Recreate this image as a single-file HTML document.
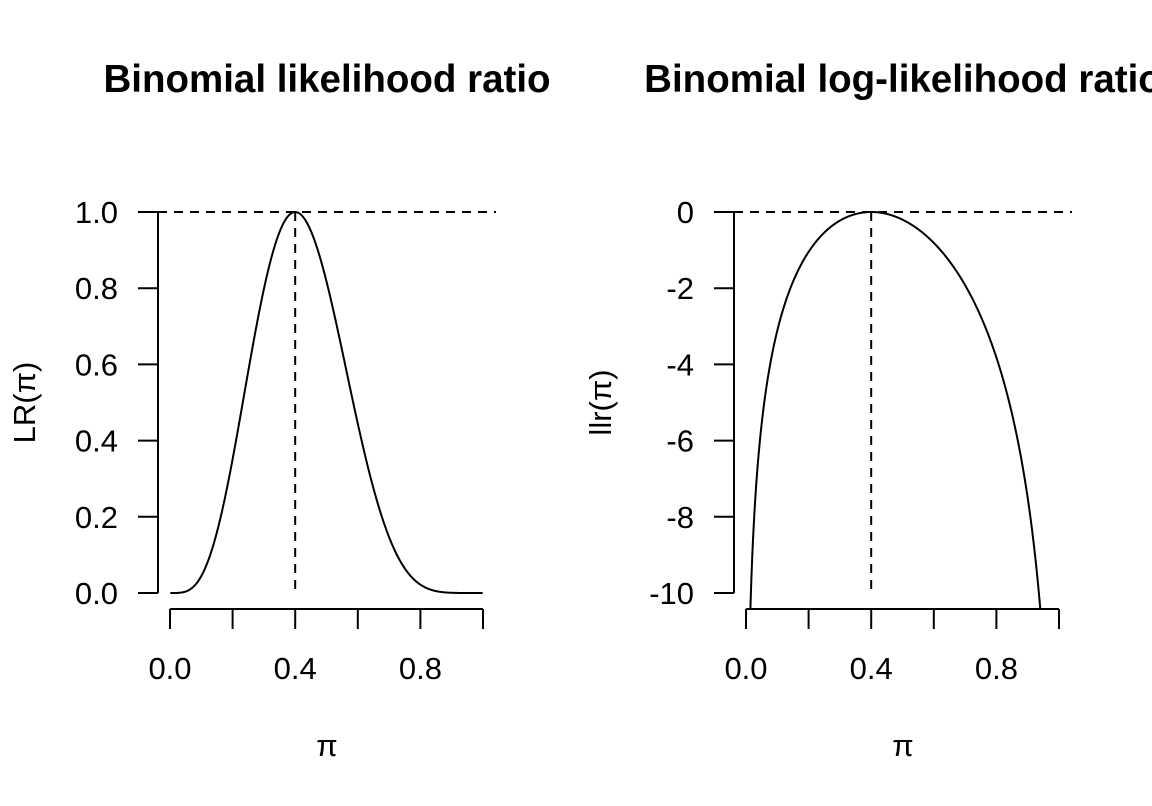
<!DOCTYPE html>
<html><head><meta charset="utf-8"><style>
html,body{margin:0;padding:0;background:#fff;}
svg{display:block;font-family:"Liberation Sans",Arial,sans-serif;}
</style></head><body>
<svg id="chart" width="1152" height="806" viewBox="0 0 1152 806" xmlns="http://www.w3.org/2000/svg">
<defs>
<clipPath id="clipL"><rect x="157" y="197" width="340" height="412"/></clipPath>
<clipPath id="clipR"><rect x="733" y="197" width="340" height="411"/></clipPath>
</defs>
<g id="left"></g>
<g id="right"></g>
</svg>
<script>
// data
const trials = [10];
const successes = [4];
const xTicks = [0, 0.2, 0.4, 0.6, 0.8, 1.0];
const xTickLabels = ["0.0", "", "0.4", "", "0.8", ""];
const lrTicks = [0, 0.2, 0.4, 0.6, 0.8, 1.0];
const lrTickLabels = ["0.0", "0.2", "0.4", "0.6", "0.8", "1.0"];
const llrTicks = [-10, -8, -6, -4, -2, 0];
const llrTickLabels = ["-10", "-8", "-6", "-4", "-2", "0"];

const NS = "http://www.w3.org/2000/svg";
function mk(parent, tag, attrs, text) {
  const e = document.createElementNS(NS, tag);
  for (const k in attrs) e.setAttribute(k, attrs[k]);
  if (text !== undefined) e.textContent = text;
  parent.appendChild(e);
  return e;
}
const n = trials[0], k = successes[0], mle = k / n;
function llr(p) { return k * Math.log(p / mle) + (n - k) * Math.log((1 - p) / (1 - mle)); }

function panel(g, x0, title, ylab, yTicks, yLabels, ymin, ymax, f, clip) {
  const sx = v => x0 + v * 313;
  const sy = v => 593 - (v - ymin) / (ymax - ymin) * 381;
  const t = mk(g, "text", {x: x0 + 157, y: 92, "text-anchor": "middle", "font-size": "38.5", "font-weight": "bold"}, title);
  
  
  const ya = mk(g, "g", {});
  
  
  mk(ya, "line", {x1: x0 - 12, x2: x0 - 12, y1: sy(yTicks[0]), y2: sy(yTicks[yTicks.length - 1]), stroke: "#000", "stroke-width": 2});
  yTicks.forEach((v, i) => {
    mk(ya, "line", {x1: x0 - 32, x2: x0 - 12, y1: sy(v), y2: sy(v), stroke: "#000", "stroke-width": 2});
    const lb = mk(ya, "text", {x: x0 - 52, y: sy(v) + 11, "text-anchor": "end", "font-size": "31"}, yLabels[i]);
    
    
  });
  const xa = mk(g, "g", {});
  
  
  mk(xa, "line", {x1: sx(0), x2: sx(1), y1: 609, y2: 609, stroke: "#000", "stroke-width": 2});
  xTicks.forEach((v, i) => {
    mk(xa, "line", {x1: sx(v), x2: sx(v), y1: 609, y2: 629, stroke: "#000", "stroke-width": 2});
    if (xTickLabels[i]) {
      const lb = mk(xa, "text", {x: sx(v), y: 679, "text-anchor": "middle", "font-size": "31"}, xTickLabels[i]);
      
      
    }
  });
  const xl = mk(g, "text", {x: x0 + 157, y: 756, "text-anchor": "middle", "font-size": "31"}, "π");
  
  
  const yl = mk(g, "text", {x: 0, y: 0, "text-anchor": "middle", "font-size": "31", transform: `translate(${x0 - 135},${sy((ymin + ymax) / 2)}) rotate(-90)`}, ylab);
  
  
  const h = mk(g, "line", {x1: x0 - 12, x2: x0 + 326, y1: sy(ymax), y2: sy(ymax), stroke: "#000", "stroke-width": 2, "stroke-dasharray": "9,7"});
  
  
  const v = mk(g, "line", {x1: sx(mle), x2: sx(mle), y1: sy(ymax), y2: sy(ymin), stroke: "#000", "stroke-width": 2, "stroke-dasharray": "9,7"});
  
  
  let d = "";
  for (let i = 1; i < 1000; i++) {
    const p = i / 1000;
    const y = Math.max(f(p), ymin - 2);
    d += (d ? "L" : "M") + sx(p).toFixed(2) + "," + sy(y).toFixed(2);
  }
  const c = mk(g, "path", {d: d, fill: "none", stroke: "#000", "stroke-width": 2, "clip-path": clip});
  
  
}
panel(document.getElementById("left"), 170, "Binomial likelihood ratio", "LR(π)", lrTicks, lrTickLabels, 0, 1, p => Math.exp(llr(p)), "url(#clipL)");
panel(document.getElementById("right"), 746, "Binomial log-likelihood ratio", "llr(π)", llrTicks, llrTickLabels, -10, 0, llr, "url(#clipR)");
</script>
</body></html>
